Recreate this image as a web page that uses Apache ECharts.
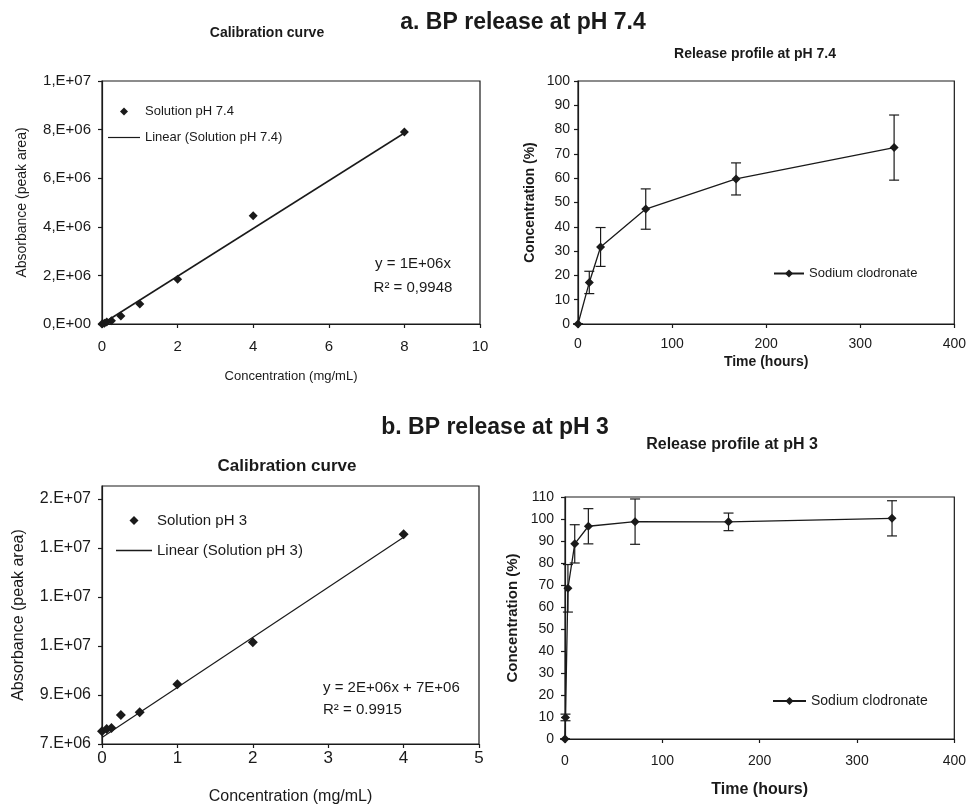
<!DOCTYPE html>
<html>
<head>
<meta charset="utf-8">
<title>BP release</title>
<script src="https://cdn.jsdelivr.net/npm/echarts@6/dist/echarts.min.js"></script>
<style>
html,body{margin:0;padding:0;background:#fff;}
#main{width:969px;height:806px;}
</style>
</head>
<body>
<div id="main"></div>
<script>
// calibration at pH 7.4
var concA = [0, 0.0625, 0.125, 0.25, 0.5, 1, 2, 4, 8];
var areaA = [0, 0.03e6, 0.08e6, 0.135e6, 0.33e6, 0.82e6, 1.84e6, 4.45e6, 7.9e6];
var fitXA = [0, 8];
var fitYA = [0, 7.86e6];
var yTicksA = [0, 2e6, 4e6, 6e6, 8e6, 1e7];
var yLabelsA = ['0,E+00', '2,E+06', '4,E+06', '6,E+06', '8,E+06', '1,E+07'];

// release at pH 7.4
var timeA = [0, 12, 24, 72, 168, 336];
var relA = [0, 17.1, 31.7, 47.3, 59.7, 72.6];
var errA = [0, 4.6, 8.0, 8.3, 6.6, 13.4];

// calibration at pH 3
var concB = [0, 0.0625, 0.125, 0.25, 0.5, 1, 2, 4];
var areaB = [7.52e6, 7.61e6, 7.65e6, 8.18e6, 8.29e6, 9.44e6, 11.15e6, 15.55e6];
var fitXB = [0, 4];
var fitYB = [7.27e6, 15.43e6];
var yTicksB = [7e6, 9e6, 11e6, 13e6, 15e6, 17e6];
var yLabelsB = ['7.E+06', '9.E+06', '1.E+07', '1.E+07', '1.E+07', '2.E+07'];

// release at pH 3
var timeB = [0, 0.5, 3, 10, 24, 72, 168, 336];
var relB = [0, 9.8, 68.5, 88.7, 96.7, 98.8, 98.7, 100.3];
var errB = [0, 1.5, 10.8, 8.7, 8.0, 10.3, 4.0, 8.0];

var FONT = "'Liberation Sans', Arial, sans-serif";
var INK = '#1a1a1a';

function pairs(xs, ys) {
	return xs.map(function (x, i) { return [x, ys[i]]; });
}
function bars(xs, m, e) {
	return xs.map(function (x, i) { return [x, m[i] - e[i], m[i] + e[i]]; });
}
function tickLabel(ticks, labels) {
	return function (v) {
		for (var i = 0; i < ticks.length; i++) {
			if (Math.abs(ticks[i] - v) < 1e-6 * Math.max(1, Math.abs(v))) return labels[i];
		}
		return '';
	};
}
function errorBar(params, api) {
	var x = api.value(0);
	var lo = api.coord([x, api.value(1)]);
	var hi = api.coord([x, api.value(2)]);
	var w = 5;
	var st = { stroke: INK, lineWidth: 1.2 };
	return {
		type: 'group',
		children: [
			{ type: 'line', shape: { x1: hi[0] - w, y1: hi[1], x2: hi[0] + w, y2: hi[1] }, style: st },
			{ type: 'line', shape: { x1: hi[0], y1: hi[1], x2: lo[0], y2: lo[1] }, style: st },
			{ type: 'line', shape: { x1: lo[0] - w, y1: lo[1], x2: lo[0] + w, y2: lo[1] }, style: st }
		]
	};
}

function axis(grid, o) {
	return {
		gridIndex: grid,
		type: 'value',
		min: o.min, max: o.max, interval: o.interval,
		name: o.name, nameLocation: 'middle', nameGap: o.nameGap,
		nameTextStyle: { fontSize: o.nameSize, fontWeight: o.bold ? 'bold' : 'normal', color: INK, fontFamily: FONT },
		axisLine: { show: true, onZero: false, lineStyle: { color: INK, width: 1.2 } },
		axisTick: { show: true, length: 4, lineStyle: { color: INK, width: 1.2 }, customValues: o.ticks },
		axisLabel: { fontSize: o.labelSize, margin: o.margin, color: INK, fontFamily: FONT, formatter: o.fmt, customValues: o.ticks },
		splitLine: { show: false }
	};
}

var lineIcon = 'path://M0,0H40V1.5H0Z';
var diamondIcon = 'path://M5,0L10,5L5,10L0,5Z';
var myChart = echarts.init(document.getElementById('main'));
var option = {
	backgroundColor: '#fff',
	animation: false,
	textStyle: { fontFamily: FONT },
	grid: [
		{ left: 102, top: 81, width: 378, height: 243, show: true, borderColor: INK, borderWidth: 1.2 },
		{ left: 578, top: 81, width: 377, height: 243, show: true, borderColor: INK, borderWidth: 1.2 },
		{ left: 102, top: 486, width: 377, height: 259, show: true, borderColor: INK, borderWidth: 1.2 },
		{ left: 565, top: 497, width: 392, height: 242, show: true, borderColor: INK, borderWidth: 1.2 }
	],
	xAxis: [
		axis(0, { min: 0, max: 10, interval: 2, name: 'Concentration (mg/mL)', nameGap: 46, nameSize: 13, labelSize: 15, margin: 15 }),
		axis(1, { min: 0, max: 400, interval: 100, name: 'Time (hours)', nameGap: 31, nameSize: 14, bold: true, labelSize: 14, margin: 13 }),
		axis(2, { min: 0, max: 5, interval: 1, name: 'Concentration (mg/mL)', nameGap: 45, nameSize: 16, labelSize: 17, margin: 6 }),
		axis(3, { min: 0, max: 400, interval: 100, name: 'Time (hours)', nameGap: 43, nameSize: 16, bold: true, labelSize: 14, margin: 15 })
	],
	yAxis: [
		axis(0, { min: 0, max: 1e7, interval: 2e6, name: 'Absorbance (peak area)', nameGap: 73, nameSize: 14, labelSize: 15, margin: 11, fmt: tickLabel(yTicksA, yLabelsA) }),
		axis(1, { min: 0, max: 100, interval: 10, name: 'Concentration (%)', nameGap: 41, nameSize: 14, bold: true, labelSize: 14, margin: 8 }),
		axis(2, { min: 7e6, max: 1.752e7, name: 'Absorbance (peak area)', nameGap: 75, nameSize: 16, labelSize: 16, margin: 11, ticks: yTicksB, fmt: tickLabel(yTicksB, yLabelsB) }),
		axis(3, { min: 0, max: 110, interval: 10, name: 'Concentration (%)', nameGap: 45, nameSize: 15, bold: true, labelSize: 14, margin: 11 })
	],
	legend: [
		{
			orient: 'vertical', left: 108, top: 105, padding: 0, itemGap: 13, itemWidth: 32, itemHeight: 8,
			textStyle: { fontSize: 13, color: INK, fontFamily: FONT },
			data: [{ name: 'Solution pH 7.4', icon: diamondIcon }, { name: 'Linear (Solution pH 7.4)', icon: lineIcon }]
		},
		{
			orient: 'vertical', left: 773, top: 267, padding: 0, itemWidth: 30, itemHeight: 10,
			textStyle: { fontSize: 13, color: INK, fontFamily: FONT },
			data: ['Sodium clodronate']
		},
		{
			orient: 'vertical', left: 116, top: 513, padding: 0, itemGap: 15, itemWidth: 36, itemHeight: 9,
			textStyle: { fontSize: 15, color: INK, fontFamily: FONT },
			data: [{ name: 'Solution pH 3', icon: diamondIcon }, { name: 'Linear (Solution pH 3)', icon: lineIcon }]
		},
		{
			orient: 'vertical', left: 772, top: 694, padding: 0, itemWidth: 33, itemHeight: 10,
			textStyle: { fontSize: 14, color: INK, fontFamily: FONT },
			data: ['Sodium clodronate']
		}
	],
	graphic: [
		{ type: 'text', x: 523, y: 23, style: { text: 'a. BP release at pH 7.4', font: 'bold 23px ' + FONT, fill: INK, textAlign: 'center', textVerticalAlign: 'middle' } },
		{ type: 'text', x: 267, y: 33, style: { text: 'Calibration curve', font: 'bold 14px ' + FONT, fill: INK, textAlign: 'center', textVerticalAlign: 'middle' } },
		{ type: 'text', x: 755, y: 54, style: { text: 'Release profile at pH 7.4', font: 'bold 14px ' + FONT, fill: INK, textAlign: 'center', textVerticalAlign: 'middle' } },
		{ type: 'text', x: 413, y: 264, style: { text: 'y = 1E+06x', font: '15px ' + FONT, fill: INK, textAlign: 'center', textVerticalAlign: 'middle' } },
		{ type: 'text', x: 413, y: 288, style: { text: 'R\u00b2 = 0,9948', font: '15px ' + FONT, fill: INK, textAlign: 'center', textVerticalAlign: 'middle' } },
		{ type: 'text', x: 495, y: 428, style: { text: 'b. BP release at pH 3', font: 'bold 23px ' + FONT, fill: INK, textAlign: 'center', textVerticalAlign: 'middle' } },
		{ type: 'text', x: 287, y: 466, style: { text: 'Calibration curve', font: 'bold 17px ' + FONT, fill: INK, textAlign: 'center', textVerticalAlign: 'middle' } },
		{ type: 'text', x: 732, y: 445, style: { text: 'Release profile at pH 3', font: 'bold 16px ' + FONT, fill: INK, textAlign: 'center', textVerticalAlign: 'middle' } },
		{ type: 'text', x: 323, y: 688, style: { text: 'y = 2E+06x + 7E+06', font: '15px ' + FONT, fill: INK, textAlign: 'left', textVerticalAlign: 'middle' } },
		{ type: 'text', x: 323, y: 710, style: { text: 'R\u00b2 = 0.9915', font: '15px ' + FONT, fill: INK, textAlign: 'left', textVerticalAlign: 'middle' } }
	],
	series: [
		{
			name: 'Solution pH 7.4', type: 'scatter', xAxisIndex: 0, yAxisIndex: 0, z: 3,
			symbol: 'diamond', symbolSize: 9, itemStyle: { color: INK, opacity: 1 },
			data: pairs(concA, areaA)
		},
		{
			name: 'Linear (Solution pH 7.4)', type: 'line', xAxisIndex: 0, yAxisIndex: 0, z: 2,
			symbol: 'none', color: INK, lineStyle: { color: INK, width: 1.5 },
			data: pairs(fitXA, fitYA)
		},
		{
			type: 'custom', xAxisIndex: 1, yAxisIndex: 1, renderItem: errorBar,
			encode: { x: 0, y: [1, 2] }, data: bars(timeA, relA, errA), z: 2
		},
		{
			name: 'Sodium clodronate', type: 'line', xAxisIndex: 1, yAxisIndex: 1, z: 3,
			symbol: 'diamond', symbolSize: 9, color: INK,
			itemStyle: { color: INK }, lineStyle: { color: INK, width: 1.3 },
			data: pairs(timeA, relA)
		},
		{
			name: 'Solution pH 3', type: 'scatter', xAxisIndex: 2, yAxisIndex: 2, z: 3,
			symbol: 'diamond', symbolSize: 10, itemStyle: { color: INK, opacity: 1 },
			data: pairs(concB, areaB)
		},
		{
			name: 'Linear (Solution pH 3)', type: 'line', xAxisIndex: 2, yAxisIndex: 2, z: 2,
			symbol: 'none', color: INK, lineStyle: { color: INK, width: 1.2 },
			data: pairs(fitXB, fitYB)
		},
		{
			type: 'custom', xAxisIndex: 3, yAxisIndex: 3, renderItem: errorBar,
			encode: { x: 0, y: [1, 2] }, data: bars(timeB, relB, errB), z: 2
		},
		{
			name: 'Sodium clodronate', type: 'line', xAxisIndex: 3, yAxisIndex: 3, z: 3,
			symbol: 'diamond', symbolSize: 9, color: INK,
			itemStyle: { color: INK }, lineStyle: { color: INK, width: 1.3 },
			data: pairs(timeB, relB)
		}
	]
};
myChart.setOption(option);
</script>
</body>
</html>
